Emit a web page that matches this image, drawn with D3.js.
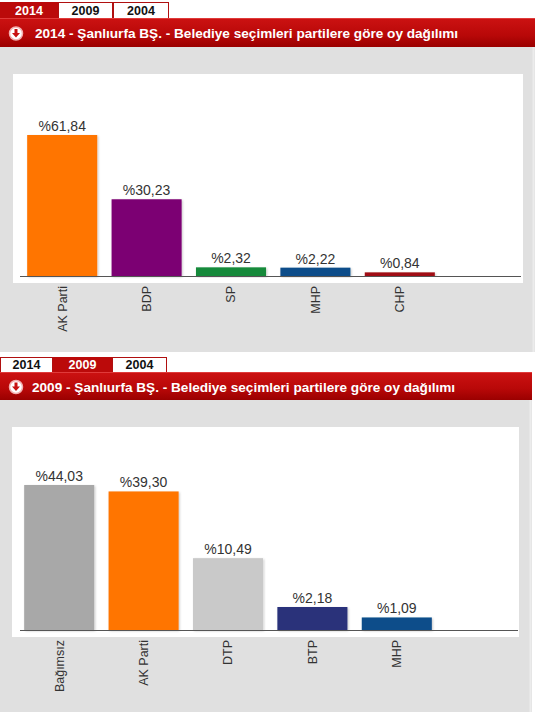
<!DOCTYPE html>
<html>
<head>
<meta charset="utf-8">
<script src="https://cdn.jsdelivr.net/npm/d3@7"></script>
<style>
  body { margin: 0; background: #fff; }
  svg { display: block; font-family: "Liberation Sans", Arial, sans-serif; }
</style>
</head>
<body>
<div id="chart"></div>
<script>
// tab labels
var tabYears = ["2014", "2009", "2004"];

// 2014 results
var parties2014 = ["AK Parti", "BDP", "SP", "MHP", "CHP"];
var votes2014 = [61.84, 30.23, 2.32, 2.22, 0.84];

// 2009 results
var parties2009 = ["Bağımsız", "AK Parti", "DTP", "BTP", "MHP"];
var votes2009 = [44.03, 39.30, 10.49, 2.18, 1.09];

// party colours
var partyColor = {
  "AK Parti": "#ff7400",
  "BDP": "#7c0073",
  "SP": "#178a3a",
  "MHP": "#0d4d8a",
  "CHP": "#a00c12",
  "Bağımsız": "#a8a8a8",
  "DTP": "#c9c9c9",
  "BTP": "#29307a"
};

var title = function(year) {
  return year + " - Şanlıurfa BŞ. - Belediye seçimleri partilere göre oy dağılımı";
};

// turkish number format: decimal comma
var trFormat = d3.formatLocale({decimal: ",", thousands: ".", grouping: [3], currency: ["", ""]}).format(".2f");

var svg = d3.select("#chart").append("svg")
    .attr("width", 535)
    .attr("height", 715);

var defs = svg.append("defs");

var grad = defs.append("linearGradient")
    .attr("id", "headerGrad")
    .attr("x1", 0).attr("y1", 0).attr("x2", 0).attr("y2", 1);
grad.append("stop").attr("offset", "0%").attr("stop-color", "#cc1212");
grad.append("stop").attr("offset", "60%").attr("stop-color", "#b80808");
grad.append("stop").attr("offset", "100%").attr("stop-color", "#9a0000");

var shadow = defs.append("filter")
    .attr("id", "barShadow")
    .attr("x", "-10%").attr("y", "-10%").attr("width", "130%").attr("height", "130%");
shadow.append("feDropShadow")
    .attr("dx", 1).attr("dy", 1)
    .attr("stdDeviation", 1)
    .attr("flood-color", "#000")
    .attr("flood-opacity", 0.22);

// Panel layouts (the 2009 screenshot is cut slightly differently)
var panels = [
  {
    year: "2014", parties: parties2014, votes: votes2014,
    tabTop: 2, tabW: [58, 55, 56],
    headTop: 18, headBottom: 47, headRight: 535, textX: 35,
    greyBottom: 352, greyRight: 535,
    plot: {x0: 13, x1: 523, y0: 74, y1: 283},
    base: 276, barTop: 135, axisX: [20, 521], bandStart: 20,
    // bars in the source are not linear, this follows them
    yScale: function() { return d3.scalePow().exponent(0.85); }
  },
  {
    year: "2009", parties: parties2009, votes: votes2009,
    tabTop: 357, tabW: [53, 59, 55],
    headTop: 372, headBottom: 400, headRight: 532, textX: 32,
    greyBottom: 712, greyRight: 532,
    plot: {x0: 12, x1: 519, y0: 427, y1: 637},
    base: 630, barTop: 485, axisX: [20, 518], bandStart: 17,
    yScale: function() { return d3.scaleSymlog().constant(5); }
  }
];

panels.forEach(drawPanel);

function drawPanel(p) {
  var g = svg.append("g");

  // grey body
  g.append("rect")
      .attr("x", 0).attr("y", p.headBottom)
      .attr("width", p.greyRight).attr("height", p.greyBottom - p.headBottom)
      .attr("fill", "#e0e0e0");
  g.append("line")
      .attr("x1", p.greyRight - 1.5).attr("x2", p.greyRight - 1.5)
      .attr("y1", p.headBottom).attr("y2", p.greyBottom)
      .attr("stroke", "#ececec").attr("stroke-width", 2);

  // tabs
  var tx = 0;
  tabYears.forEach(function(y, i) {
    var w = p.tabW[i], active = y == p.year;
    g.append("rect")
        .attr("x", tx + 0.5).attr("y", p.tabTop + 0.5)
        .attr("width", w - 1).attr("height", p.headTop - p.tabTop + 2)
        .attr("fill", active ? "#bb0a0a" : "#fff")
        .attr("stroke", active ? "#bb0a0a" : "#b01010");
    g.append("text")
        .attr("x", tx + w / 2).attr("y", p.headTop - 3)
        .attr("text-anchor", "middle")
        .attr("font-size", 12.5).attr("font-weight", "bold")
        .attr("fill", active ? "#fff" : "#111")
        .text(y);
    tx += w;
  });

  // red header bar
  g.append("rect")
      .attr("x", 0).attr("y", p.headTop)
      .attr("width", p.headRight).attr("height", p.headBottom - p.headTop)
      .attr("fill", "url(#headerGrad)");
  g.append("line")
      .attr("x1", 0).attr("x2", p.headRight)
      .attr("y1", p.headTop + 0.5).attr("y2", p.headTop + 0.5)
      .attr("stroke", "#e03a3a");

  // icon
  var cy = (p.headTop + p.headBottom) / 2 + 1, cx = 16;
  g.append("circle")
      .attr("cx", cx).attr("cy", cy).attr("r", 6.5)
      .attr("fill", "#fff")
      .attr("stroke", "#f3b0b0").attr("stroke-width", 1.5);
  g.append("path")
      .attr("d", "M" + (cx - 1.5) + "," + (cy - 4.5) + "h3v4h2.5l-4,4.5l-4,-4.5h2.5z")
      .attr("fill", "#c81010");

  g.append("text")
      .attr("x", p.textX).attr("y", cy + 4.5)
      .attr("font-size", 13.6).attr("font-weight", "bold")
      .attr("fill", "#fff")
      .text(title(p.year));

  // white plot area
  g.append("rect")
      .attr("x", p.plot.x0).attr("y", p.plot.y0)
      .attr("width", p.plot.x1 - p.plot.x0).attr("height", p.plot.y1 - p.plot.y0)
      .attr("fill", "#fff");

  var x = d3.scaleBand()
      .domain(p.parties)
      .range([p.bandStart, p.bandStart + 422])
      .paddingInner(0.17)
      .paddingOuter(0.085);

  var y = p.yScale()
      .domain([0, d3.max(p.votes)])
      .range([p.base, p.barTop]);

  var data = p.parties.map(function(d, i) { return {party: d, vote: p.votes[i]}; });

  g.selectAll("rect.bar")
      .data(data)
      .enter().append("rect")
      .attr("class", "bar")
      .attr("x", function(d) { return x(d.party); })
      .attr("width", x.bandwidth())
      .attr("y", function(d) { return y(d.vote); })
      .attr("height", function(d) { return p.base - y(d.vote); })
      .attr("fill", function(d) { return partyColor[d.party]; })
      .attr("filter", "url(#barShadow)");

  g.selectAll("text.val")
      .data(data)
      .enter().append("text")
      .attr("class", "val")
      .attr("x", function(d) { return x(d.party) + x.bandwidth() / 2; })
      .attr("y", function(d) { return y(d.vote) - 4; })
      .attr("text-anchor", "middle")
      .attr("font-size", 14)
      .attr("fill", "#333")
      .text(function(d) { return "%" + trFormat(d.vote); });

  // baseline
  g.append("line")
      .attr("x1", p.axisX[0]).attr("x2", p.axisX[1])
      .attr("y1", p.base + 0.5).attr("y2", p.base + 0.5)
      .attr("stroke", "#555");

  // category labels
  var axis = g.append("g")
      .attr("transform", "translate(0," + p.base + ")")
      .call(d3.axisBottom(x).tickSize(0));
  axis.select(".domain").remove();
  axis.selectAll("text")
      .attr("transform", "rotate(-90)")
      .attr("text-anchor", "end")
      .attr("x", -10)
      .attr("y", 0)
      .attr("dy", "0.35em")
      .attr("font-size", 12.5)
      .attr("font-family", "Liberation Sans, Arial, sans-serif")
      .attr("fill", "#333");
}
</script>
</body>
</html>
